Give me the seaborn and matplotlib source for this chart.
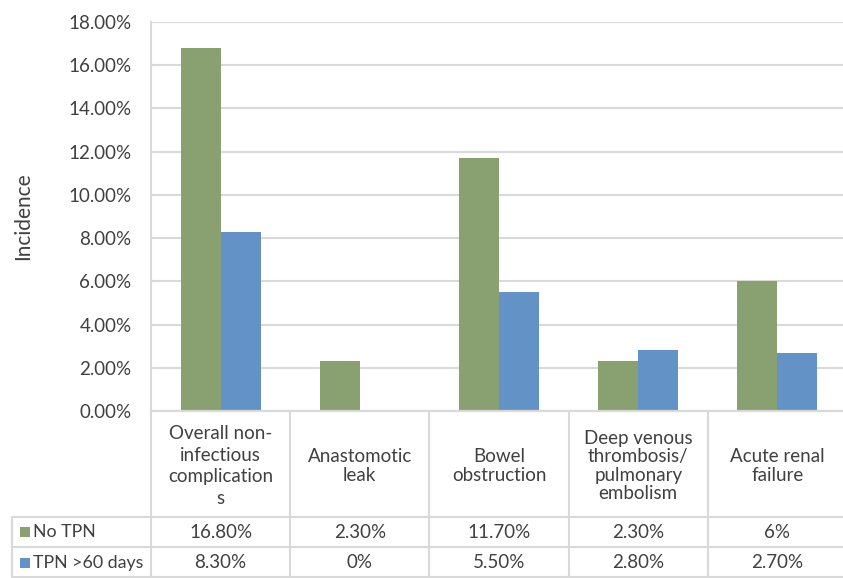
import matplotlib
matplotlib.use("Agg")
import matplotlib.pyplot as plt
from matplotlib.transforms import blended_transform_factory
from matplotlib.patches import Rectangle
import pandas as pd
import seaborn as sns

# data
categories = ["Overall non-\ninfectious\ncomplication\ns", "Anastomotic\nleak", "Bowel\nobstruction",
              "Deep venous\nthrombosis/\npulmonary\nembolism", "Acute renal\nfailure"]
series = ["No TPN", "TPN >60 days"]
no_tpn = [16.8, 2.3, 11.7, 2.3, 6.0]
tpn_60 = [8.3, 0.0, 5.5, 2.8, 2.7]
no_tpn_labels = ["16.80%", "2.30%", "11.70%", "2.30%", "6%"]
tpn_60_labels = ["8.30%", "0%", "5.50%", "2.80%", "2.70%"]
y_ticks = [0, 2, 4, 6, 8, 10, 12, 14, 16, 18]

GREEN = "#89A071"
BLUE = "#6393C6"
GRID = "#D9D9D9"
TEXT = "#404040"
FS = 13.5

df = pd.DataFrame({
    "category": categories * 2,
    "series": [series[0]] * 5 + [series[1]] * 5,
    "value": no_tpn + tpn_60,
})

sns.set_theme(style="white")
plt.rcParams["font.family"] = ["Lato", "DejaVu Sans"]

W, H = 843, 578
fig = plt.figure(figsize=(W / 100, H / 100), dpi=100)
ax = fig.add_axes([151 / W, 1 - 411 / H, 696 / W, (411 - 22) / H])

sns.barplot(data=df, x="category", y="value", hue="series", palette=[GREEN, BLUE],
            width=0.575, saturation=1, legend=False, linewidth=0, ax=ax)

ax.set_xlim(-0.5, 4.5)
ax.set_ylim(0, 18)
ax.set_yticks(y_ticks)
ax.set_yticklabels([f"{t:.2f}%" for t in y_ticks], fontsize=FS, color=TEXT)
ax.set_xticks([])
ax.set_xlabel("")
ax.set_ylabel("Incidence", fontsize=15, color=TEXT)
ax.yaxis.set_label_coords(-(151 - 33) / 696, 0.5)
ax.tick_params(axis="y", length=0, pad=14)
ax.grid(axis="y", color=GRID, linewidth=1.5)
ax.set_axisbelow(True)
for side in ["top", "right"]:
    ax.spines[side].set_visible(False)
for side in ["left", "bottom"]:
    ax.spines[side].set_color(GRID)
    ax.spines[side].set_linewidth(1.5)

# data table below the axis
tr = blended_transform_factory(ax.transData, fig.transFigure)
ftr = fig.transFigure


def fy(px):
    return 1 - px / H


for yy in [411, 517, 547, 577]:
    ax.plot([-0.5, 4.6], [fy(yy), fy(yy)], transform=tr, color=GRID, lw=1.5, clip_on=False)
for yy in [517, 547, 577]:
    fig.add_artist(plt.Line2D([12 / W, 151 / W], [fy(yy), fy(yy)], color=GRID, lw=1.5))
fig.add_artist(plt.Line2D([12 / W, 12 / W], [fy(517), fy(578)], color=GRID, lw=1.5))
for i in range(6):
    ax.plot([i - 0.5, i - 0.5], [fy(411), fy(578)], transform=tr, color=GRID, lw=1.5, clip_on=False)

for i, cat in enumerate(categories):
    spacing = 1.35 if i == 0 else 1.1
    ax.text(i, fy(466), cat, transform=tr, ha="center", va="center", fontsize=FS,
            color=TEXT, linespacing=spacing)
    ax.text(i, fy(532), no_tpn_labels[i], transform=tr, ha="center", va="center",
            fontsize=FS, color=TEXT)
    ax.text(i, fy(563), tpn_60_labels[i], transform=tr, ha="center", va="center",
            fontsize=FS, color=TEXT)

for name, color, yy in [(series[0], GREEN, 532), (series[1], BLUE, 563)]:
    fig.add_artist(Rectangle((20 / W, fy(yy + 5)), 10 / W, 10 / H, transform=ftr,
                             facecolor=color, edgecolor="none"))
    fig.text(33 / W, fy(yy), name, ha="left", va="center", fontsize=12.8, color=TEXT)

fig.savefig("out.png", dpi=100)
